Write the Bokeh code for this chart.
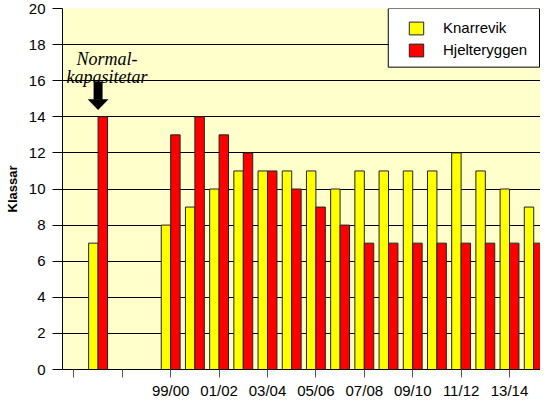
from bokeh.plotting import figure
from bokeh.models import (ColumnDataSource, Range1d, FixedTicker, Legend, LegendItem,
                          BoxAnnotation, PolyAnnotation, Label)
from bokeh.transform import dodge
from bokeh.embed import file_html
from bokeh.resources import INLINE

# ---- data ----
categories = ["", "Normal", "", "", "99/00", "00/01", "01/02", "02/03", "03/04", "04/05",
              "05/06", "06/07", "07/08", "08/09", "09/10", "10/11", "11/12", "12/13",
              "13/14", "14/15"]
knarrevik = [None, 7, None, None, 8, 9, 10, 11, 11, 11, 11, 10, 11, 11, 11, 11, 12, 11, 10, 9]
hjelteryggen = [None, 14, None, None, 13, 14, 13, 12, 11, 10, 9, 8, 7, 7, 7, 7, 7, 7, 7, 7]
series_names = ["Knarrevik", "Hjelteryggen"]
series_colors = ["#FFFF00", "#FF0000"]
annotation_lines = ["Normal-", "kapasitetar"]
y_label = "Klassar"

FONT = "Liberation Sans"

idx = [i for i, v in enumerate(knarrevik) if v is not None]
src = ColumnDataSource(dict(
    x=idx,
    k=[knarrevik[i] for i in idx],
    h=[hjelteryggen[i] for i in idx],
))

p = figure(width=540, height=401, output_backend="svg", toolbar_location=None,
           x_range=Range1d(-0.47, 19.28), y_range=Range1d(0, 20),
           min_border_left=62, min_border_right=0, min_border_top=8, min_border_bottom=20)
p.background_fill_color = "#FFFFCC"
p.border_fill_color = "white"
p.outline_line_color = None

bw = 0.39
r1 = p.vbar(x=dodge("x", -bw / 2, range=p.x_range), top="k", width=bw, source=src,
            fill_color=series_colors[0], line_color="#222222", line_width=1)
r2 = p.vbar(x=dodge("x", bw / 2, range=p.x_range), top="h", width=bw, source=src,
            fill_color=series_colors[1], line_color="#222222", line_width=1)

# axes
p.xgrid.visible = False
p.ygrid.grid_line_color = "black"
p.ygrid.grid_line_alpha = 1

p.yaxis.ticker = FixedTicker(ticks=list(range(0, 21, 2)))
p.yaxis.minor_tick_line_color = None
p.yaxis.major_tick_in = 0
p.yaxis.major_tick_out = 10
p.yaxis.major_label_standoff = 7
p.yaxis.axis_line_color = "black"
p.yaxis.major_tick_line_color = "black"
p.yaxis.major_label_text_font = FONT
p.yaxis.major_label_text_font_size = "15px"
p.yaxis.major_label_text_color = "black"
p.yaxis.axis_label = y_label
p.yaxis.axis_label_text_font = FONT
p.yaxis.axis_label_text_font_size = "13px"
p.yaxis.axis_label_text_font_style = "bold"
p.yaxis.axis_label_text_color = "black"
p.yaxis.axis_label_standoff = 6

even = list(range(0, len(categories), 2))
p.xaxis.ticker = FixedTicker(ticks=even)
p.xaxis.major_label_overrides = {i: categories[i] for i in even}
p.xaxis.minor_tick_line_color = None
p.xaxis.major_tick_in = 0
p.xaxis.major_tick_out = 8
p.xaxis.major_label_standoff = 4
p.xaxis.axis_label = None
p.xaxis.axis_line_color = "black"
p.xaxis.major_tick_line_color = "#555555"
p.xaxis.major_label_text_font = FONT
p.xaxis.major_label_text_font_size = "15px"
p.xaxis.major_label_text_color = "black"

# legend box
box = BoxAnnotation(left=12.99, right=19.24, top=20, bottom=16.75,
                    fill_color="white", fill_alpha=1, line_color="black", line_alpha=1,
                    line_width=1)
p.add_layout(box)

legend = Legend(items=[LegendItem(label=series_names[0], renderers=[r1]),
                       LegendItem(label=series_names[1], renderers=[r2])],
                location=(345, 311), padding=0, margin=0, spacing=5,
                glyph_width=18, glyph_height=16, label_height=17, label_standoff=18,
                border_line_color=None, background_fill_alpha=0,
                label_text_font=FONT, label_text_font_size="15px", label_text_color="black")
p.add_layout(legend)

# arrow annotation
shaft = BoxAnnotation(left=1 - 0.185, right=1 + 0.185, top=15.95, bottom=14.95,
                      fill_color="black", fill_alpha=1, line_color=None)
p.add_layout(shaft)
head = PolyAnnotation(xs=[1 - 0.43, 1 + 0.43, 1], ys=[14.97, 14.97, 14.38],
                      fill_color="black", fill_alpha=1, line_color=None)
p.add_layout(head)

for txt, yy in zip(annotation_lines, [17.19, 16.22]):
    p.add_layout(Label(x=1.37, y=yy, text=txt, text_align="center",
                       text_baseline="alphabetic", text_font="Liberation Serif",
                       text_font_style="italic", text_font_size="18px",
                       text_color="black"))

open("out.html", "w").write(file_html(p, INLINE))
